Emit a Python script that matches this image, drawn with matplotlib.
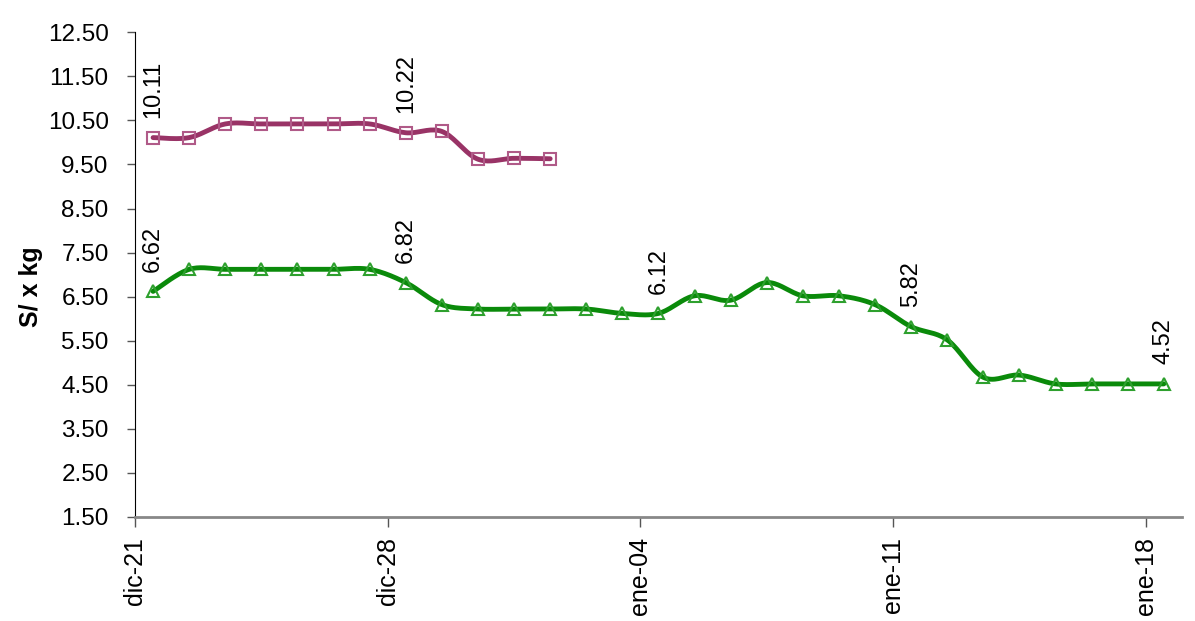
import matplotlib.pyplot as plt
import numpy as np

plt.rcParams['font.family'] = ['Liberation Sans', 'DejaVu Sans']

tick_days = [0, 7, 14, 21, 28]
tick_labels = ['dic-21', 'dic-28', 'ene-04', 'ene-11', 'ene-18']
n_days = 29

# serie verde (29 dias)
green = [6.62, 7.12, 7.12, 7.12, 7.12, 7.12, 7.12, 6.82, 6.32, 6.22,
         6.22, 6.22, 6.22, 6.12, 6.12, 6.52, 6.42, 6.82, 6.52, 6.52,
         6.32, 5.82, 5.52, 4.67, 4.72, 4.52, 4.52, 4.52, 4.52]
green_lbl = [0, 7, 14, 21, 28]

# serie morada (12 dias)
purple = [10.11, 10.11, 10.42, 10.42, 10.42, 10.42, 10.42, 10.22, 10.25,
          9.62, 9.64, 9.63]
purple_lbl = [0, 7]


def smooth(x, y, steps=20):
    # curva tipo excel (bezier con tangentes catmull-rom)
    x = np.asarray(x, float)
    y = np.asarray(y, float)
    xs, ys = [], []
    for i in range(len(x) - 1):
        p0 = (x[i - 1], y[i - 1]) if i > 0 else (x[i], y[i])
        p1 = (x[i], y[i])
        p2 = (x[i + 1], y[i + 1])
        p3 = (x[i + 2], y[i + 2]) if i + 2 < len(x) else (x[i + 1], y[i + 1])
        c1 = (p1[0] + (p2[0] - p0[0]) / 6, p1[1] + (p2[1] - p0[1]) / 6)
        c2 = (p2[0] - (p3[0] - p1[0]) / 6, p2[1] - (p3[1] - p1[1]) / 6)
        t = np.linspace(0, 1, steps)
        bx = (1-t)**3*p1[0] + 3*(1-t)**2*t*c1[0] + 3*(1-t)*t**2*c2[0] + t**3*p2[0]
        by = (1-t)**3*p1[1] + 3*(1-t)**2*t*c1[1] + 3*(1-t)*t**2*c2[1] + t**3*p2[1]
        xs.extend(bx)
        ys.extend(by)
    return xs, ys


fig = plt.figure(figsize=(11.95, 6.21), dpi=100)
ax = fig.add_axes([0.113, 0.1675, 0.876, 0.7805])

gx = np.arange(len(green)) + 0.5
px = np.arange(len(purple)) + 0.5

green_c = '#0a8a0a'
purple_c = '#993366'

sx, sy = smooth(gx, green)
ax.plot(sx, sy, color=green_c, lw=3.5, solid_capstyle='round')
ax.plot(gx, green, ls='none', marker='^', ms=8, mfc='none', mec='#2ea02e', mew=1.5)

sx, sy = smooth(px, purple)
ax.plot(sx, sy, color=purple_c, lw=3.5, solid_capstyle='round')
ax.plot(px, purple, ls='none', marker='s', ms=8, mfc='none', mec='#b05a88', mew=1.5)

for i in green_lbl:
    ax.annotate('%.2f' % green[i], (gx[i], green[i]), xytext=(0, 14),
                textcoords='offset points', rotation=90, ha='center', va='bottom',
                fontsize=17)
for i in purple_lbl:
    ax.annotate('%.2f' % purple[i], (px[i], purple[i]), xytext=(0, 14),
                textcoords='offset points', rotation=90, ha='center', va='bottom',
                fontsize=17)

ax.set_xlim(0, n_days)
ax.set_ylim(1.5, 12.5)
yt = np.arange(1.5, 12.51, 1.0)
ax.set_yticks(yt)
ax.set_yticklabels(['%.2f' % v for v in yt], fontsize=17.5)
ax.set_xticks(tick_days)
ax.set_xticklabels(tick_labels, rotation=90, fontsize=18)
ax.tick_params(axis='y', direction='out', length=6, width=1, color='#555555', pad=13)
ax.tick_params(axis='x', direction='out', length=7.5, width=1, color='#555555', pad=7)

ax.spines['top'].set_visible(False)
ax.spines['right'].set_visible(False)
ax.spines['left'].set_color('black')
ax.spines['bottom'].set_color('#888888')
ax.spines['bottom'].set_linewidth(2)

ax.set_ylabel('S/ x kg', fontsize=18, fontweight='bold')
ax.yaxis.set_label_coords(-0.088, 0.476)

fig.savefig('out.png', dpi=100)
